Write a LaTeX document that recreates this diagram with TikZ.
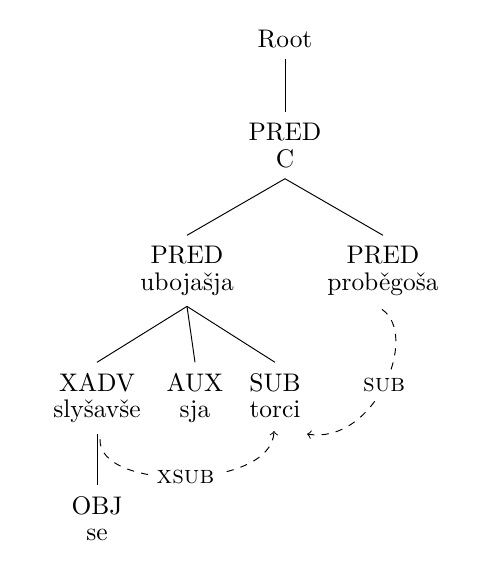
\documentclass[tikz,border=0pt]{standalone}
\usetikzlibrary{calc}
\begin{document}
\begin{tikzpicture}[x=0.41667pt,y=-0.41667pt,
  word/.style={align=center, inner sep=0pt, outer ysep=4.6pt, anchor=north,
    font=\fontsize{10.6}{11}\selectfont},
  tree/.style={line width=0.4pt},
  dep/.style={dashed, ->, line width=0.4pt},
  lab/.style={fill=white, inner sep=3pt, font=\fontsize{10.6}{11}\selectfont\scshape}]
\useasboundingbox (0,0) rectangle (489,572);
\node[word] (root) at (285,18.7) {Root};
\node[word] (c) at (285,112.3) {PRED\\C};
\node[word] (ub) at (187,235.3) {PRED\\ubojašja};
\node[word] (pr) at (383,235.3) {PRED\\proběgoša};
\node[word] (xadv) at (97,362.3) {XADV\\slyšavše};
\node[word] (aux) at (195,362.3) {AUX\\sja};
\node[word] (sub) at (275,362.3) {SUB\\torci};
\node[word] (obj) at (97,485.3) {OBJ\\se};
\draw[tree] (root.south) -- (c.north);
\draw[tree] (c.south) -- (ub.north);
\draw[tree] (c.south) -- (pr.north);
\draw[tree] (ub.south) -- (xadv.north);
\draw[tree] (ub.south) -- (aux.north);
\draw[tree] (ub.south) -- (sub.north);
\draw[tree] (xadv.south) -- (obj.north);
\draw[dep] ($(xadv.south)+(3,5)$) .. controls (98,492) and (272,490) ..
  node[lab] {xsub} ($(sub.south)+(-1,2)$);
\draw[dep] ($(pr.south)+(-1,3)$) .. controls (420,335) and (375,445) ..
  node[lab] {sub} ($(sub.south)+(32,5)$);
\end{tikzpicture}
\end{document}
